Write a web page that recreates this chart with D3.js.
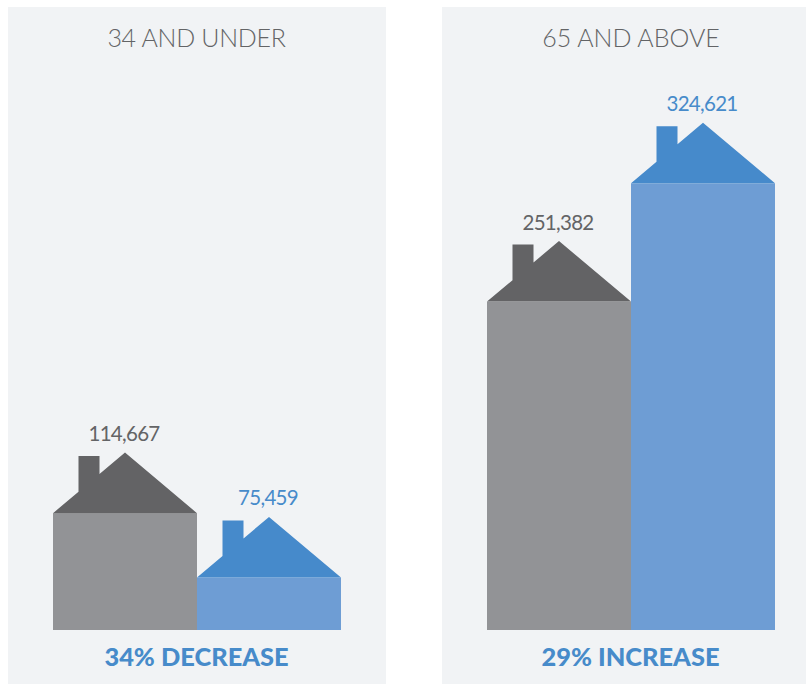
<!DOCTYPE html>
<html><head><meta charset="utf-8">
<script src="https://cdnjs.cloudflare.com/ajax/libs/d3/7.8.5/d3.min.js"></script>
<style>html,body{margin:0;padding:0;background:#fff}svg{display:block}</style>
</head><body><svg id="c" width="806" height="684"></svg>
<script>
const panelTitles = ["34 AND UNDER", "65 AND ABOVE"];
const panelFooters = ["34% DECREASE", "29% INCREASE"];
const under34 = [114667, 75459];
const above65 = [251382, 324621];
const seriesBody = ["#929396", "#6e9dd4"];
const seriesRoof = ["#636365", "#468acb"];
const seriesText = ["#636466", "#478bca"];

const svg = d3.select("#c");
const font = "Lato, 'Open Sans', sans-serif";
const baseY = 630, roofH = 60.6, chimW = 21, bw = 144;
// The source pictogram does not scale its two series quite identically
const yScales = [
  d3.scaleLinear().domain([0, 251382]).range([baseY, 241]),
  d3.scaleLinear().domain([4000, 324621]).range([baseY, 122.7])
];
const fmt = d3.format(",");
const panels = [
  {x0: 8, x1: 386, bar0: 53, values: under34},
  {x0: 442, x1: 806, bar0: 487, values: above65}
];
panels.forEach((p, pi) => {
  const x = d3.scaleBand().domain([0, 1]).range([p.bar0, p.bar0 + 2 * bw]).padding(0);
  const g = svg.append("g");
  g.append("rect").attr("x", p.x0).attr("y", 7).attr("width", p.x1 - p.x0).attr("height", 677).attr("fill", "#f1f3f5");
  g.append("text").attr("x", pi ? 631 : 196.5).attr("y", 47).attr("text-anchor", "middle")
    .attr("font-family", font).attr("font-weight", 300).attr("font-size", 25)
    .attr("letter-spacing", pi ? 0 : -0.3).attr("fill", "#636466").text(panelTitles[pi]);
  g.append("text").attr("x", pi ? 630.5 : 196.5).attr("y", 666).attr("text-anchor", "middle")
    .attr("font-family", font).attr("font-weight", 900).attr("font-size", 25.4).attr("fill", "#478bca").text(panelFooters[pi]);
  p.values.forEach((v, i) => {
    const l = x(i), r = l + bw, m = l + bw / 2, apex = yScales[i](v), eave = apex + roofH;
    const slope = roofH / (bw / 2);
    const cl = l + 25.5, cr = cl + chimW;
    const roofAt = xx => eave - (xx - l) * slope;
    g.append("rect").attr("x", l).attr("y", eave).attr("width", bw).attr("height", baseY - eave).attr("fill", seriesBody[i]);
    g.append("path").attr("fill", seriesRoof[i]).attr("d", d3.line()([
      [l, eave], [cl, roofAt(cl)], [cl, apex + 3.5], [cr, apex + 3.5], [cr, roofAt(cr)], [m, apex], [r, eave]
    ]) + "Z");
    g.append("text").attr("x", m - 1).attr("y", apex - 11.5).attr("text-anchor", "middle")
      .attr("font-family", font).attr("font-size", 20.5).attr("letter-spacing", -0.7).attr("fill", seriesText[i]).text(fmt(v));
  });
});
</script></body></html>
